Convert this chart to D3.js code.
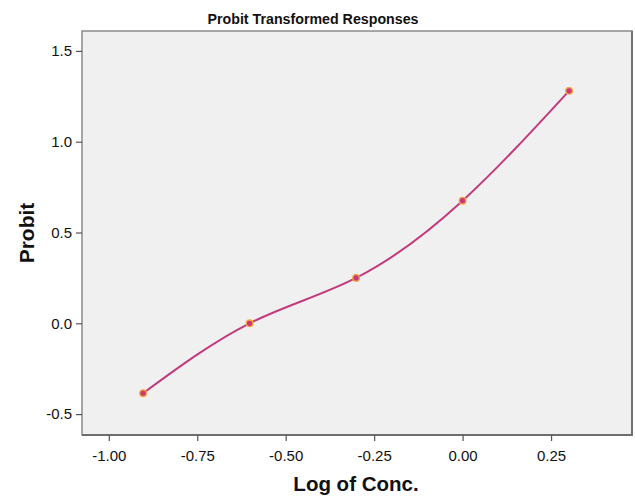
<!DOCTYPE html>
<html>
<head>
<meta charset="utf-8">
<script src="https://cdn.jsdelivr.net/npm/d3@7"></script>
<style>
  html, body { margin: 0; padding: 0; background: #ffffff; }
  svg { display: block; font-family: "Liberation Sans", Arial, sans-serif; }
</style>
</head>
<body>
<svg id="chart" width="635" height="499"></svg>
<script>
// Log10 of concentration and the probit value at each dose
const logConc = [-0.903, -0.602, -0.301, 0.0, 0.301];
const probit = [-0.385, 0.0, 0.25, 0.675, 1.28];
const xTicks = [-1.0, -0.75, -0.5, -0.25, 0.0, 0.25];
const yTicks = [-0.5, 0.0, 0.5, 1.0, 1.5];

const svg = d3.select("#chart");
const frame = { left: 82, right: 632, top: 31, bottom: 435 };

const x = d3.scaleLinear()
  .domain([-1.0, 0.0])
  .range([108.8, 462.6]);
const y = d3.scaleLinear()
  .domain([0.0, 1.0])
  .range([323.3, 141.7]);

// plot panel
svg.append("rect")
  .attr("x", frame.left).attr("y", frame.top)
  .attr("width", frame.right - frame.left)
  .attr("height", frame.bottom - frame.top)
  .attr("fill", "#f0f0f0")
  .attr("stroke", "#8a8a8a")
  .attr("stroke-width", 1.5);
// darker right and bottom edges of the panel
svg.append("path")
  .attr("d", `M${frame.right},${frame.top}V${frame.bottom}H${frame.left}`)
  .attr("fill", "none")
  .attr("stroke", "#6e6e6e")
  .attr("stroke-width", 1.8);

// y axis
const yAxis = svg.append("g")
  .attr("transform", `translate(${frame.left},0)`)
  .call(d3.axisLeft(y).tickValues(yTicks).tickSize(6).tickPadding(4));
yAxis.select(".domain").remove();
yAxis.selectAll(".tick line").attr("stroke", "#555").attr("stroke-width", 1.2);
yAxis.selectAll(".tick text")
  .attr("fill", "#111").style("font-size", "15px")
  .text(d => d < 0 ? "-" + d3.format(".1f")(-d) : d3.format(".1f")(d));

// x axis
const xAxis = svg.append("g")
  .attr("transform", `translate(0,${frame.bottom})`)
  .call(d3.axisBottom(x).tickValues(xTicks).tickSize(6).tickPadding(9));
xAxis.select(".domain").remove();
xAxis.selectAll(".tick line").attr("stroke", "#555").attr("stroke-width", 1.2);
xAxis.selectAll(".tick text")
  .attr("fill", "#111").style("font-size", "15px")
  .text(d => d < 0 ? "-" + d3.format(".2f")(-d) : d3.format(".2f")(d));

// smoothed response curve
const pts = logConc.map((v, i) => [v, probit[i]]);
svg.append("path")
  .datum(pts)
  .attr("fill", "none")
  .attr("stroke", "#c23a7c")
  .attr("stroke-width", 2)
  .attr("d", d3.line().x(d => x(d[0])).y(d => y(d[1])).curve(d3.curveNatural));

// observed points
svg.append("g").selectAll("circle")
  .data(pts)
  .join("circle")
  .attr("cx", d => x(d[0]))
  .attr("cy", d => y(d[1]))
  .attr("r", 3.3)
  .attr("fill", "#c8387a")
  .attr("stroke", "#f4a43a")
  .attr("stroke-width", 1.3);

// titles
svg.append("text")
  .attr("x", 313).attr("y", 24)
  .attr("text-anchor", "middle")
  .style("font-size", "14px").style("font-weight", "bold")
  .attr("textLength", 211).attr("lengthAdjust", "spacingAndGlyphs")
  .attr("fill", "#111")
  .text("Probit Transformed Responses");

svg.append("text")
  .attr("x", 356).attr("y", 491)
  .attr("text-anchor", "middle")
  .style("font-size", "20.5px").style("font-weight", "bold")
  .attr("fill", "#111")
  .text("Log of Conc.");

svg.append("text")
  .attr("transform", "translate(34,233) rotate(-90)")
  .attr("text-anchor", "middle")
  .style("font-size", "21px").style("font-weight", "bold")
  .attr("fill", "#111")
  .text("Probit");
</script>
</body>
</html>
